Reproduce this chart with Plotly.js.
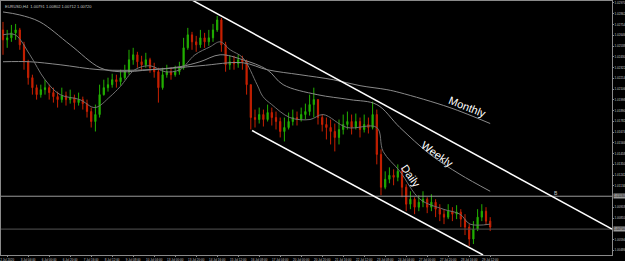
<!DOCTYPE html>
<html><head><meta charset="utf-8">
<script src="https://cdn.plot.ly/plotly-3.0.1.min.js"></script>
<style>html,body{margin:0;padding:0;background:#000;}#chart{width:625px;height:261px;}</style>
</head><body><div id="chart"></div>
<script>
// ---- candle data (price) ----
const openP = [1.0270,1.0260,1.0262,1.0267,1.0270,1.0255,1.0238,1.0222,1.0212,1.0205,
1.0210,1.0212,1.0207,1.0203,1.0200,1.0204,1.0200,1.0202,1.0197,1.0200,
1.0196,1.0188,1.0178,1.0185,1.0205,1.0212,1.0215,1.0220,1.0218,1.0222,
1.0228,1.0240,1.0245,1.0238,1.0235,1.0240,1.0232,1.0228,1.0212,1.0225,
1.0228,1.0225,1.0228,1.0232,1.0252,1.0265,1.0258,1.0255,1.0262,1.0258,
1.0262,1.0270,1.0280,1.0255,1.0235,1.0238,1.0236,1.0240,1.0238,1.0215,
1.0182,1.0180,1.0185,1.0180,1.0187,1.0182,1.0178,1.0168,1.0172,1.0178,
1.0182,1.0180,1.0185,1.0188,1.0195,1.0200,1.0182,1.0175,1.0172,1.0168,
1.0162,1.0170,1.0175,1.0178,1.0172,1.0178,1.0170,1.0175,1.0172,1.0185,
1.0145,1.0112,1.0120,1.0124,1.0122,1.0128,1.0112,1.0095,1.0100,1.0092,
1.0097,1.0100,1.0092,1.0097,1.0090,1.0085,1.0082,1.0088,1.0085,1.0087,
1.0080,1.0072,1.0060,1.0070,1.0082,1.0088,1.0078];
const highP = [1.0278,1.0270,1.0275,1.0276,1.0272,1.0258,1.0240,1.0225,1.0215,1.0215,
1.0220,1.0215,1.0212,1.0208,1.0212,1.0208,1.0210,1.0205,1.0207,1.0203,
1.0200,1.0192,1.0195,1.0215,1.0220,1.0222,1.0226,1.0225,1.0230,1.0235,
1.0250,1.0252,1.0248,1.0244,1.0247,1.0242,1.0237,1.0232,1.0232,1.0235,
1.0232,1.0234,1.0238,1.0262,1.0272,1.0268,1.0264,1.0270,1.0267,1.0270,
1.0276,1.0284,1.0282,1.0258,1.0244,1.0244,1.0245,1.0244,1.0240,1.0215,
1.0190,1.0192,1.0190,1.0195,1.0192,1.0188,1.0182,1.0182,1.0187,1.0190,
1.0188,1.0192,1.0196,1.0205,1.0212,1.0200,1.0185,1.0182,1.0180,1.0176,
1.0180,1.0185,1.0188,1.0185,1.0186,1.0182,1.0185,1.0182,1.0198,1.0190,
1.0150,1.0128,1.0132,1.0130,1.0135,1.0132,1.0115,1.0108,1.0102,1.0104,
1.0108,1.0102,1.0105,1.0100,1.0095,1.0090,1.0095,1.0092,1.0094,1.0090,
1.0085,1.0075,1.0078,1.0090,1.0095,1.0092,1.0082];
const lowP = [1.0245,1.0252,1.0258,1.0260,1.0250,1.0230,1.0215,1.0205,1.0200,1.0202,
1.0205,1.0200,1.0197,1.0192,1.0197,1.0194,1.0196,1.0190,1.0194,1.0190,
1.0182,1.0172,1.0168,1.0182,1.0204,1.0208,1.0212,1.0212,1.0214,1.0220,
1.0225,1.0235,1.0232,1.0230,1.0232,1.0227,1.0222,1.0197,1.0210,1.0222,
1.0220,1.0223,1.0225,1.0230,1.0250,1.0250,1.0248,1.0252,1.0252,1.0254,
1.0258,1.0268,1.0248,1.0228,1.0230,1.0230,1.0232,1.0230,1.0205,1.0170,
1.0172,1.0176,1.0173,1.0178,1.0174,1.0170,1.0162,1.0158,1.0170,1.0174,
1.0174,1.0178,1.0180,1.0184,1.0182,1.0175,1.0168,1.0160,1.0155,1.0148,
1.0155,1.0165,1.0170,1.0165,1.0170,1.0162,1.0167,1.0166,1.0170,1.0135,
1.0104,1.0110,1.0116,1.0114,1.0118,1.0102,1.0088,1.0090,1.0085,1.0088,
1.0092,1.0086,1.0088,1.0082,1.0078,1.0075,1.0080,1.0078,1.0080,1.0072,
1.0064,1.0053,1.0055,1.0068,1.0078,1.0074,1.0068];
const closeP = [1.0260,1.0262,1.0267,1.0270,1.0255,1.0238,1.0222,1.0212,1.0205,1.0210,
1.0212,1.0207,1.0203,1.0200,1.0204,1.0200,1.0202,1.0197,1.0200,1.0196,
1.0188,1.0178,1.0185,1.0205,1.0212,1.0215,1.0220,1.0218,1.0222,1.0228,
1.0240,1.0245,1.0238,1.0235,1.0240,1.0232,1.0228,1.0212,1.0225,1.0228,
1.0225,1.0228,1.0232,1.0252,1.0265,1.0258,1.0255,1.0262,1.0258,1.0262,
1.0270,1.0280,1.0255,1.0235,1.0238,1.0236,1.0240,1.0238,1.0215,1.0182,
1.0180,1.0185,1.0180,1.0187,1.0182,1.0178,1.0168,1.0172,1.0178,1.0182,
1.0180,1.0185,1.0188,1.0195,1.0200,1.0182,1.0175,1.0172,1.0168,1.0162,
1.0170,1.0175,1.0178,1.0172,1.0178,1.0170,1.0175,1.0172,1.0185,1.0145,
1.0112,1.0120,1.0124,1.0122,1.0128,1.0112,1.0095,1.0100,1.0092,1.0097,
1.0100,1.0092,1.0097,1.0090,1.0085,1.0082,1.0088,1.0085,1.0087,1.0080,
1.0072,1.0060,1.0070,1.0082,1.0088,1.0078,1.0072];

// ---- moving averages (bar index, price) ----
const maFastX = [0,2.9,6.4,10,13.6,18.3,21.9,25.5,27.9,31.4,35,38.6,42.1,45.7,49.3,51.7,54.1,57.1,60.5,61.9,64.0,68.3,73.1,76.2,81.9,89.0,90.5,94.5,99.3,104.8,108.8,111.2,116];
const maFastY = [1.0265,1.0265,1.0245,1.0220,1.0205,1.0200,1.0192,1.0203,1.0213,1.0230,1.0234,1.0228,1.0230,1.0245,1.0253,1.0258,1.0250,1.0242,1.0215,1.0203,1.0195,1.0182,1.0180,1.0185,1.0172,1.0172,1.0148,1.0128,1.0100,1.0090,1.0085,1.0075,1.0075];
const maMidX = [0,4,8.8,16,23.1,27.9,35,42.1,46.9,51.7,57.1,62.9,66.7,74.8,82.6,89,94.5,101.7,108.8,116];
const maMidY = [1.0288,1.0285,1.0278,1.0255,1.0232,1.0228,1.0230,1.0233,1.0238,1.0245,1.0240,1.0230,1.0215,1.0205,1.0200,1.0195,1.0172,1.0145,1.0125,1.0108];
const maSlowX = [0,6.4,13.6,23.1,35,46.9,57.1,62.9,70.7,78.6,85,91.4,94.5,106.4,116];
const maSlowY = [1.0238,1.0238,1.0235,1.0230,1.0230,1.0234,1.0237,1.0230,1.0225,1.0220,1.0214,1.0210,1.0207,1.0192,1.0176];

// ---- drawn objects ----
const trendX = [45.0, 145.0];
const trendY = [1.0300, 1.0070];
const channelX = [59.3, 114.3];
const channelY = [1.0169, 1.0044];
const levelHi = 1.0103;
const levelLo = 1.0070;

// ---- axis tick labels ----
const tickIdx = [1,6,11,16,21,26,31,36,41,46,51,56,61,66,71,76,81,86,91,96,101,106,111,116];
const tickLbl = ["2 Jul 2020","3 Jul 04:00","6 Jul 00:00","6 Jul 20:00","7 Jul 16:00","8 Jul 12:00","9 Jul 08:00","10 Jul 04:00","13 Jul 00:00","13 Jul 20:00","14 Jul 16:00","15 Jul 12:00","16 Jul 08:00","17 Jul 04:00","20 Jul 00:00","20 Jul 20:00","21 Jul 16:00","22 Jul 12:00","23 Jul 08:00","24 Jul 04:00","27 Jul 00:00","27 Jul 20:00","28 Jul 16:00","29 Jul 12:00"];
const priceTicks = [1.02970,1.02862,1.02754,1.02646,1.02538,1.02430,1.02322,1.02214,1.02106,1.01998,
1.01890,1.01782,1.01674,1.01566,1.01458,1.01350,1.01242,1.01134,1.00918,1.00810,1.00594,1.00486];

const idx = closeP.map((_, i) => i);
const xr = [-0.476, 145.0];
const traces = [
  {type:'scatter', mode:'lines', x:xr, y:[levelHi, levelHi], line:{color:'#9a9a9a', width:1}, hoverinfo:'skip'},
  {type:'scatter', mode:'lines', x:xr, y:[levelLo, levelLo], line:{color:'#555555', width:1}, hoverinfo:'skip'},
  {type:'scatter', mode:'lines', x:maSlowX, y:maSlowY, line:{color:'#8a8a8a', width:1, shape:'spline'}, hoverinfo:'skip'},
  {type:'scatter', mode:'lines', x:maMidX, y:maMidY, line:{color:'#8a8a8a', width:1, shape:'spline'}, hoverinfo:'skip'},
  {type:'scatter', mode:'lines', x:maFastX, y:maFastY, line:{color:'#707070', width:1, shape:'spline'}, hoverinfo:'skip'},
  {type:'candlestick', x:idx, open:openP, high:highP, low:lowP, close:closeP,
   increasing:{line:{color:'#22b000', width:1}, fillcolor:'#22b000'},
   decreasing:{line:{color:'#c82000', width:1}, fillcolor:'#c82000'},
   whiskerwidth:0, hoverinfo:'skip'},
  {type:'scatter', mode:'lines', x:trendX, y:trendY, line:{color:'#ffffff', width:1.5}, hoverinfo:'skip'},
  {type:'scatter', mode:'lines', x:channelX, y:channelY, line:{color:'#ffffff', width:1.5}, hoverinfo:'skip'}
];

const layout = {
  width:625, height:261,
  paper_bgcolor:'#000', plot_bgcolor:'#000',
  margin:{l:1, r:13, t:1, b:6},
  showlegend:false, boxgap:0.6,
  font:{family:'Arial, Liberation Sans, sans-serif', color:'#c8c8c8', size:4},
  xaxis:{range:xr, tickvals:tickIdx, ticktext:tickLbl, tickangle:0, showgrid:false, zeroline:false,
    showline:true, linecolor:'#8a8a8a', linewidth:1, mirror:true, ticks:'outside', ticklen:1, tickcolor:'#8a8a8a',
    tickfont:{size:3, color:'#c8c8c8'}, rangeslider:{visible:false}, fixedrange:true},
  yaxis:{range:[1.0044, 1.0299], side:'right', tickvals:priceTicks, tickformat:'.5f',
    showgrid:false, zeroline:false, showline:true, linecolor:'#8a8a8a', linewidth:1, mirror:true,
    ticks:'outside', ticklen:1, tickcolor:'#8a8a8a', tickfont:{size:3, color:'#c8c8c8'}, fixedrange:true},
  annotations:[
    {xref:'paper', yref:'paper', x:0.004, y:0.995, xanchor:'left', yanchor:'top', showarrow:false,
     text:'EURUSD,H4  1.00791 1.00802 1.00712 1.00720', font:{size:4, color:'#c8c8c8'}},
    {x:110.7, y:1.0193, text:'Monthly', showarrow:false, textangle:22, font:{size:11, color:'#ffffff', family:'Arial, Liberation Sans, sans-serif'}},
    {x:103.3, y:1.0145, text:'Weekly', showarrow:false, textangle:35, font:{size:11, color:'#ffffff', family:'Arial, Liberation Sans, sans-serif'}},
    {x:97.1, y:1.0123, text:'Daily', showarrow:false, textangle:55, font:{size:11, color:'#ffffff', family:'Arial, Liberation Sans, sans-serif'}},
    {x:131.7, y:1.0106, text:'B', showarrow:false, font:{size:5, color:'#c8c8c8'}},
    {xref:'paper', x:1.002, xanchor:'left', y:levelHi, text:'1.01030', showarrow:false, bgcolor:'#9a9a9a', font:{size:3, color:'#000'}, borderpad:0},
    {xref:'paper', x:1.002, xanchor:'left', y:levelLo, text:'1.00700', showarrow:false, bgcolor:'#9a9a9a', font:{size:3, color:'#000'}, borderpad:0}
  ]
};
Plotly.newPlot('chart', traces, layout, {staticPlot:true, displayModeBar:false});
</script></body></html>
